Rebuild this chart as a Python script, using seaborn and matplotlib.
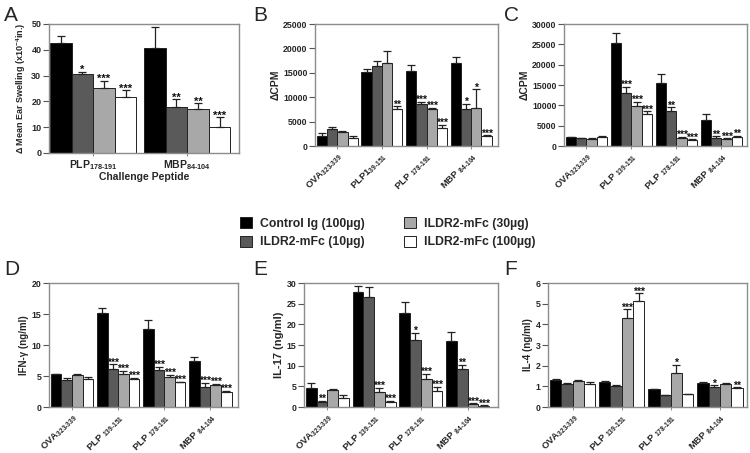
import numpy as np
import pandas as pd
import seaborn as sns
import matplotlib.pyplot as plt
from matplotlib.patches import Patch

sns.set_style("ticks")
plt.rcParams["font.family"] = ["Liberation Sans", "DejaVu Sans"]
plt.rcParams["font.weight"] = "bold"
plt.rcParams["mathtext.fontset"] = "custom"
plt.rcParams["mathtext.rm"] = "Liberation Sans:bold"
plt.rcParams["mathtext.bf"] = "Liberation Sans:bold"
plt.rcParams["mathtext.default"] = "rm"

# treatments and colours
treatments = ["Control Ig (100µg)", "ILDR2-mFc (10µg)", "ILDR2-mFc (30µg)", "ILDR2-mFc (100µg)"]
colors = ["#000000", "#5a5a5a", "#a8a8a8", "#ffffff"]

# panel A: ear swelling
a_groups = [r"PLP$_{178\text{-}191}$", r"MBP$_{84\text{-}104}$"]
a_means = [[42.5, 40.8], [30.5, 18.0], [25.2, 17.0], [21.7, 10.0]]
a_err = [[3.0, 7.9], [1.0, 2.8], [2.8, 2.2], [2.6, 3.8]]
a_stars = [["", ""], ["*", "**"], ["***", "**"], ["***", "***"]]

# peptide labels for B-F
b_groups = [r"OVA$_{323\text{-}339}$", r"PLP1$_{39\text{-}151}$",
            r"PLP $_{178\text{-}191}$", r"MBP $_{84\text{-}104}$"]
peptides = [r"OVA$_{323\text{-}339}$", r"PLP $_{139\text{-}151}$",
            r"PLP $_{178\text{-}191}$", r"MBP $_{84\text{-}104}$"]

# panel B: proliferation
b_means = [[2100, 15200, 15400, 17000], [3400, 16400, 8600, 7500],
           [2800, 17000, 7500, 7700], [1700, 7500, 3700, 2100]]
b_err = [[500, 600, 1100, 1200], [500, 1100, 400, 1100],
         [200, 2400, 300, 3900], [300, 600, 600, 100]]
b_stars = [["", "", "", ""], ["", "", "***", "*"], ["", "", "***", "*"], ["", "**", "***", "***"]]

# panel C: proliferation
c_means = [[2100, 25300, 15400, 6400], [1900, 13100, 8700, 2000],
           [1800, 9900, 2000, 1800], [2200, 7900, 1400, 2300]]
c_err = [[100, 2500, 2200, 1400], [100, 1400, 800, 400],
         [100, 900, 300, 100], [200, 600, 200, 200]]
c_stars = [["", "", "", ""], ["", "***", "**", "**"], ["", "***", "***", "***"], ["", "***", "***", "**"]]

# panel D: IFN-gamma
d_means = [[5.3, 15.1, 12.6, 7.5], [4.4, 6.1, 5.9, 3.2], [5.1, 5.3, 4.8, 3.5], [4.5, 4.6, 4.0, 2.5]]
d_err = [[0.1, 0.8, 1.4, 0.5], [0.3, 0.8, 0.6, 0.7], [0.2, 0.5, 0.4, 0.2], [0.4, 0.1, 0.1, 0.1]]
d_stars = [["", "", "", ""], ["", "***", "***", "***"], ["", "***", "***", "***"], ["", "***", "***", "***"]]

# panel E: IL-17
e_means = [[4.6, 27.9, 22.7, 16.0], [1.2, 26.6, 16.2, 9.3], [4.0, 3.6, 6.8, 0.7], [2.2, 1.3, 3.9, 0.3]]
e_err = [[1.3, 1.5, 2.6, 2.2], [0.3, 2.5, 1.7, 0.9], [0.4, 1.0, 1.3, 0.2], [0.6, 0.2, 0.9, 0.1]]
e_stars = [["", "", "", ""], ["**", "", "*", "**"], ["", "***", "***", "***"], ["", "***", "***", "***"]]

# panel F: IL-4
f_means = [[1.32, 1.22, 0.87, 1.18], [1.12, 1.03, 0.58, 0.98],
           [1.28, 4.33, 1.67, 1.12], [1.12, 5.15, 0.62, 0.92]]
f_err = [[0.03, 0.03, 0.01, 0.04], [0.05, 0.03, 0.02, 0.07],
         [0.04, 0.39, 0.38, 0.02], [0.08, 0.35, 0.02, 0.03]]
f_stars = [["", "", "", ""], ["", "", "", "*"], ["", "***", "*", ""], ["", "***", "", "**"]]


def bar_panel(ax, groups, means, err, stars, ymax, ystep, ylabel, xlim,
              rotate=True, tick_fs=6.3, ylab_fs=7, xlab_fs=6.8, star_fs=7.5):
    rows = []
    for t, vals in zip(treatments, means):
        for g, v in zip(groups, vals):
            rows.append({"group": g, "treat": t, "value": v})
    df = pd.DataFrame(rows)
    sns.barplot(data=df, x="group", y="value", hue="treat", order=groups,
                hue_order=treatments, palette=colors, edgecolor="#222222",
                linewidth=0.7, width=0.92, errorbar=None, legend=False, ax=ax)
    for cont, e_row, s_row in zip(ax.containers, err, stars):
        xs = [b.get_x() + b.get_width() / 2 for b in cont]
        ys = [b.get_height() for b in cont]
        ax.errorbar(xs, ys, yerr=[np.zeros(len(e_row)), e_row], fmt="none",
                    ecolor="#222222", elinewidth=0.9, capsize=3, capthick=0.9)
        for x, y, e, s in zip(xs, ys, e_row, s_row):
            if s:
                ax.annotate(s, (x, y + e), xytext=(0, -0.8), textcoords="offset points",
                            ha="center", va="baseline", fontsize=star_fs,
                            fontweight="bold", color="#111111")
    ax.set_ylim(0, ymax)
    ax.set_yticks(np.arange(0, ymax + ystep / 2, ystep))
    ax.set_xlim(*xlim)
    ax.set_ylabel(ylabel, fontsize=ylab_fs, fontweight="bold", labelpad=2)
    ax.set_xlabel("")
    ax.set_xticks(range(len(groups)))
    if rotate:
        ax.set_xticklabels(groups, rotation=45, ha="right", rotation_mode="anchor",
                           fontsize=xlab_fs, fontweight="bold")
    else:
        ax.set_xticklabels(groups, fontsize=xlab_fs, fontweight="bold")
    for lab in ax.get_yticklabels():
        lab.set_fontsize(tick_fs)
        lab.set_fontweight("bold")
    for sp in ax.spines.values():
        sp.set_visible(True)
        sp.set_color("#8c8c8c")
        sp.set_linewidth(1.0)
    ax.tick_params(axis="y", length=4, width=0.8, color="#555555", pad=1.5)
    ax.tick_params(axis="x", length=2, width=0.6, color="#777777", pad=1.5)


fig = plt.figure(figsize=(7.5, 4.53), dpi=100)

ax_a = fig.add_axes([0.0653, 0.6623, 0.2533, 0.2848])
ax_b = fig.add_axes([0.4200, 0.6777, 0.2440, 0.2693])
ax_c = fig.add_axes([0.7520, 0.6777, 0.2440, 0.2693])
ax_d = fig.add_axes([0.0653, 0.1015, 0.2520, 0.2737])
ax_e = fig.add_axes([0.4053, 0.1015, 0.2587, 0.2737])
ax_f = fig.add_axes([0.7307, 0.1015, 0.2653, 0.2737])

bar_panel(ax_a, a_groups, a_means, a_err, a_stars, 50, 10,
          "Δ Mean Ear Swelling (x10$^{-4}$in.)", (-0.47, 1.55), rotate=False,
          tick_fs=6.5, ylab_fs=6.5, xlab_fs=7.5, star_fs=8)
ax_a.set_xlabel("Challenge Peptide", fontsize=7.5, fontweight="bold", labelpad=0)

bar_panel(ax_b, b_groups, b_means, b_err, b_stars, 25000, 5000, "ΔCPM", (-0.5, 3.6),
          ylab_fs=7.5)
bar_panel(ax_c, peptides, c_means, c_err, c_stars, 30000, 5000, "ΔCPM", (-0.5, 3.57),
          ylab_fs=7.5)
bar_panel(ax_d, peptides, d_means, d_err, d_stars, 20, 5, "IFN-γ (ng/ml)", (-0.5, 3.6))
bar_panel(ax_e, peptides, e_means, e_err, e_stars, 30, 5, "IL-17 (ng/ml)", (-0.5, 3.65),
          ylab_fs=8)
bar_panel(ax_f, peptides, f_means, f_err, f_stars, 6, 1, "IL-4 (ng/ml)", (-0.5, 3.55))

# panel letters
for letter, (x, y) in zip("ABCDEF", [(0.005, 0.965), (0.338, 0.965), (0.672, 0.965),
                                     (0.005, 0.405), (0.338, 0.405), (0.672, 0.405)]):
    fig.text(x, y, letter, fontsize=15, fontweight="normal", va="center", ha="left")

handles = [Patch(facecolor=c, edgecolor="#222222", linewidth=0.7) for c in colors]
fig.legend(handles, treatments, loc="center", bbox_to_anchor=(0.5167, 0.486), ncol=2,
           frameon=False, prop={"size": 8.8, "weight": "bold"}, handlelength=1.0,
           handleheight=1.0, handletextpad=0.65, columnspacing=3.2, labelspacing=0.45,
           borderpad=0)

fig.savefig("out.png", dpi=100)
